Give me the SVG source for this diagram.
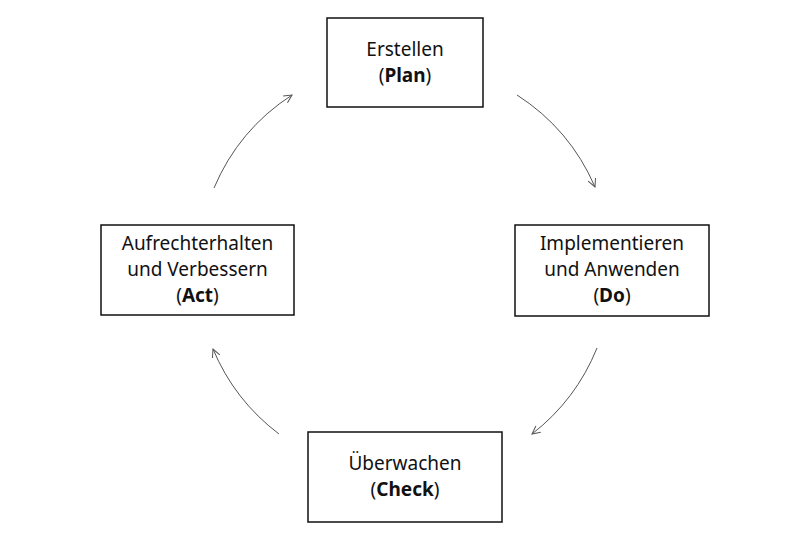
<svg xmlns="http://www.w3.org/2000/svg" width="810" height="540" viewBox="0 0 810 540">
<defs>
<style>
.box{fill:#fff;stroke:#111;stroke-width:1.5}
.t{font-family:"Noto Sans","Open Sans",sans-serif;font-size:19px;fill:#111;text-anchor:middle}
.b{font-weight:bold}
.c{fill:none;stroke:#555;stroke-width:1}
</style>
<marker id="ah" viewBox="0 0 10 10" refX="9" refY="5" markerWidth="10" markerHeight="10" markerUnits="userSpaceOnUse" orient="auto">
<path d="M1,1 L9,5 L1,9" fill="none" stroke="#555" stroke-width="1"/>
</marker>
</defs>
<rect width="810" height="540" fill="#fff"/>
<g id="connectors">
<path class="c" d="M517,95 A207,207 0 0 1 595,187" marker-end="url(#ah)"/>
<path class="c" d="M597,348 A207,207 0 0 1 532,434" marker-end="url(#ah)"/>
<path class="c" d="M279,434 A207,207 0 0 1 213,349" marker-end="url(#ah)"/>
<path class="c" d="M214,188 A207,207 0 0 1 292,95" marker-end="url(#ah)"/>
</g>
<g id="plan">
<rect class="box" x="327" y="18" width="156" height="89"/>
<text class="t" x="405" y="56">Erstellen</text>
<text class="t" x="405" y="82">(<tspan class="b">Plan</tspan>)</text>
</g>
<g id="do">
<rect class="box" x="515" y="225" width="194" height="91"/>
<text class="t" x="612" y="250">Implementieren</text>
<text class="t" x="612" y="276">und Anwenden</text>
<text class="t" x="612" y="302">(<tspan class="b">Do</tspan>)</text>
</g>
<g id="check">
<rect class="box" x="308" y="432" width="194" height="90"/>
<text class="t" x="405" y="470">Überwachen</text>
<text class="t" x="405" y="496">(<tspan class="b">Check</tspan>)</text>
</g>
<g id="act">
<rect class="box" x="101" y="225" width="193" height="90"/>
<text class="t" x="197.5" y="250">Aufrechterhalten</text>
<text class="t" x="197.5" y="276">und Verbessern</text>
<text class="t" x="197.5" y="302">(<tspan class="b">Act</tspan>)</text>
</g>
</svg>
